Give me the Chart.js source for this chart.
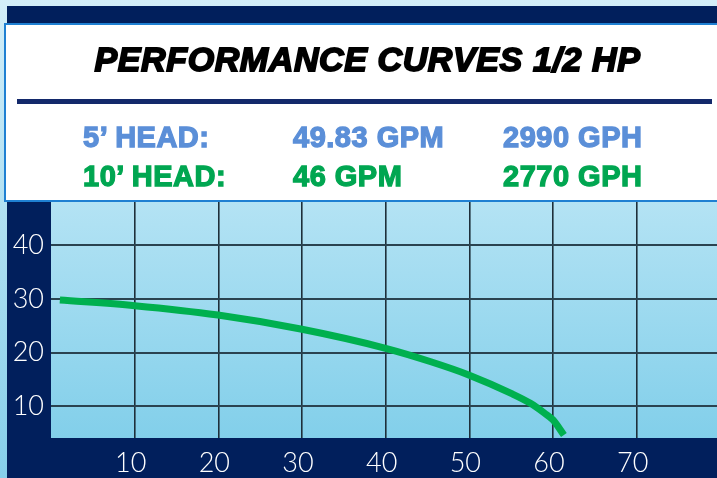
<!DOCTYPE html>
<html>
<head>
<meta charset="utf-8">
<script src="https://cdn.jsdelivr.net/npm/chart.js@4.4.1/dist/chart.umd.min.js"></script>
<style>
  html, body { margin: 0; padding: 0; }
  body { width: 717px; height: 478px; position: relative; overflow: hidden;
         background: linear-gradient(#d3eef8, #86cfea); }
  #navy { position: absolute; left: 7px; top: 6px; right: 0; bottom: 0; background: #011f5c; }
  #c { position: absolute; left: 0; top: 0; }
  #box { position: absolute; left: 4px; top: 23px; width: 720px; height: 175px;
         background: #fff; border: 2px solid #1f80d2; border-right: none; }
  #title { position: absolute; left: 0; top: 42px; width: 735px; text-align: center;
           font: italic bold 34px/34px "Liberation Sans", Arial, sans-serif; color: #000;
           letter-spacing: 0.6px; -webkit-text-stroke: 1.8px #000; white-space: nowrap; }
  #rule { position: absolute; left: 17px; top: 99px; width: 695px; height: 5px; background: #13296b; }
  .t { position: absolute; font: bold 29px/29px "Liberation Sans", Arial, sans-serif;
       letter-spacing: 0.5px; white-space: nowrap; }
  .blue { color: #5b8fd8; -webkit-text-stroke: 1.3px #5b8fd8; top: 123px; }
  .green { color: #00a651; -webkit-text-stroke: 1.3px #00a651; top: 162px; }
</style>
</head>
<body>
<div id="navy"></div>
<canvas id="c" width="717" height="478"></canvas>
<div id="box"></div>
<div id="title">PERFORMANCE CURVES 1/2 HP</div>
<div id="rule"></div>
<div class="t blue" style="left:83px">5’ HEAD:</div>
<div class="t blue" style="left:293px">49.83 GPM</div>
<div class="t blue" style="left:503px">2990 GPH</div>
<div class="t green" style="left:83px">10’ HEAD:</div>
<div class="t green" style="left:293px">46 GPM</div>
<div class="t green" style="left:503px">2770 GPH</div>
<script>
// Data (flow GPM on x, head on y)
const flowGPM = [1.06, 10, 19.95, 30, 40, 45.4, 50, 55, 57.3, 59, 60, 61.3];
const headFt  = [29.8, 28.75, 27.0, 24.35, 20.8, 18.3, 15.8, 12.4, 10.55, 8.7, 7.45, 4.65];
const xTicks = [10, 20, 30, 40, 50, 60, 70];
const yTicks = [10, 20, 30, 40];

const points = flowGPM.map((x, i) => ({ x: x, y: headFt[i] }));

const bgPlugin = {
  id: 'plotBg',
  beforeDraw(chart) {
    const { ctx, chartArea: a } = chart;
    const g = ctx.createLinearGradient(0, a.top, 0, a.bottom);
    g.addColorStop(0, '#b4e3f4');
    g.addColorStop(1, '#82cfea');
    ctx.save();
    ctx.fillStyle = g;
    ctx.fillRect(a.left, a.top, a.right - a.left, a.bottom - a.top);
    ctx.restore();
  }
};

const tickFont = { family: 'Lato, "Open Sans", sans-serif', size: 27, weight: '300' };

new Chart(document.getElementById('c'), {
  type: 'line',
  data: {
    datasets: [{
      data: points,
      borderColor: '#00b04f',
      borderWidth: 7,
      borderCapStyle: 'butt',
      pointRadius: 0,
      cubicInterpolationMode: 'monotone',
      fill: false
    }]
  },
  options: {
    responsive: false,
    devicePixelRatio: 1,
    animation: false,
    layout: { padding: { top: 201, right: 0, left: 0, bottom: 0 } },
    plugins: { legend: { display: false }, tooltip: { enabled: false } },
    scales: {
      x: {
        type: 'linear', min: 0, max: 79.6,
        afterFit(s) { s.height = 40; },
        border: { display: false },
        grid: { color: c => xTicks.includes(c.tick.value) ? '#1e2f3a' : 'rgba(0,0,0,0)', lineWidth: 1.6, drawTicks: false },
        ticks: {
          stepSize: 10, includeBounds: false, color: '#ffffff', font: tickFont, padding: 9, labelOffset: -4,
          callback: v => xTicks.includes(v) ? String(v) : ''
        }
      },
      y: {
        type: 'linear', min: 4.08, max: 48.27,
        afterFit(s) { s.width = 51; },
        border: { display: false },
        grid: { color: c => yTicks.includes(c.tick.value) ? '#2a4350' : 'rgba(0,0,0,0)', lineWidth: 2, drawTicks: false },
        ticks: {
          stepSize: 10, includeBounds: false, color: '#ffffff', font: tickFont, padding: 7,
          callback: v => yTicks.includes(v) ? String(v) : ''
        }
      }
    }
  },
  plugins: [bgPlugin]
});
</script>
</body>
</html>
